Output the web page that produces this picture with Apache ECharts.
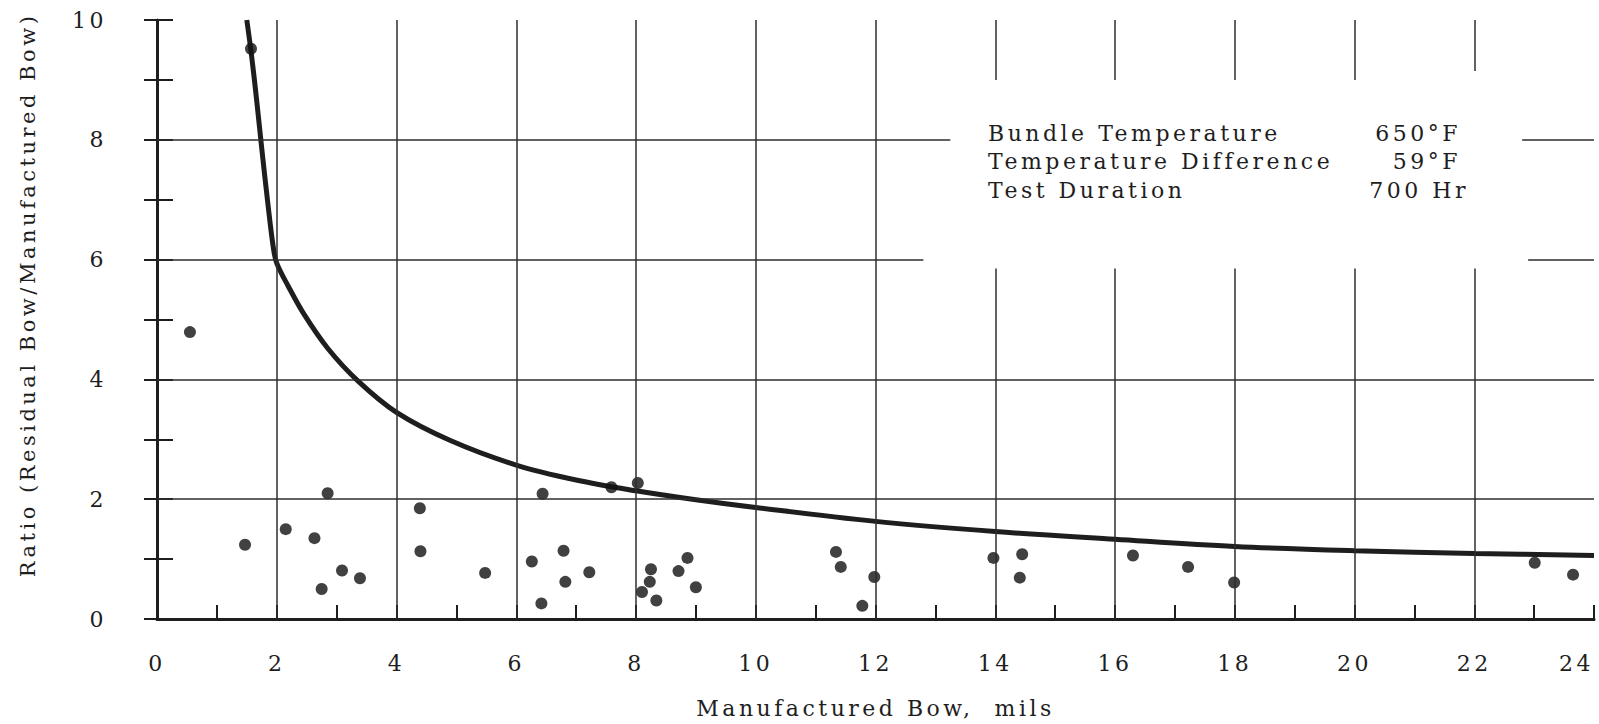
<!DOCTYPE html>
<html>
<head>
<meta charset="utf-8">
<title>Residual Bow Ratio</title>
<script src="https://cdn.jsdelivr.net/npm/echarts@6/dist/echarts.min.js"></script>
<style>
  html, body { margin: 0; padding: 0; background: #fff; }
  #chart { width: 1599px; height: 724px; }
  #chart text { letter-spacing: 3.5px; }
</style>
</head>
<body>
<div id="chart"></div>
<script>
// measured points (manufactured bow, mils / residual ratio)
const bowX = [0.55, 1.57, 1.47, 2.15, 2.63, 2.75, 2.85, 3.09, 3.39, 4.39,
  4.40, 5.48, 6.26, 6.44, 6.42, 6.79, 6.82, 7.22, 7.59, 8.03,
  8.10, 8.23, 8.25, 8.34, 8.71, 8.86, 9.00, 11.34, 11.42, 11.78,
  11.98, 13.97, 14.45, 14.41, 16.30, 17.22, 17.99, 23.01, 23.65]
const ratioY = [4.79, 9.52, 1.24, 1.50, 1.35, 0.50, 2.10, 0.81, 0.68, 1.85,
  1.13, 0.77, 0.96, 2.09, 0.26, 1.14, 0.62, 0.78, 2.20, 2.27,
  0.45, 0.62, 0.83, 0.31, 0.80, 1.02, 0.53, 1.12, 0.87, 0.22,
  0.70, 1.02, 1.08, 0.69, 1.06, 0.87, 0.61, 0.94, 0.74]

// hand-drawn envelope curve
const curveX = [1.50, 1.58, 1.66, 1.75, 1.85, 1.94, 2.00, 2.19, 2.46,
  2.85, 3.35, 4.00, 4.90, 6.00, 7.00, 8.00, 9.00, 10.00,
  12.00, 14.00, 16.00, 18.00, 20.00, 22.00, 24.00]
const curveY = [10.0, 9.40, 8.70, 7.85, 6.95, 6.22, 5.94, 5.56, 5.08,
  4.52, 3.98, 3.45, 2.98, 2.57, 2.32, 2.14, 1.99, 1.86,
  1.63, 1.46, 1.33, 1.21, 1.14, 1.095, 1.06]

const xLabels = [0, 2, 4, 6, 8, 10, 12, 14, 16, 18, 20, 22, 24]
const yLabels = [0, 2, 4, 6, 8, 10]

const noteRows = ['Bundle Temperature', 'Temperature Difference', 'Test Duration']
const noteValues = ['650°F', '59°F', '700 Hr']

const ink = '#1e1e1e'
const font = 'DejaVu Serif'

// grid lines, with the gap left for the note box
const gridSegs = []
xLabels.slice(1, 7).forEach(x => gridSegs.push([[x, 0], [x, 10]]))
xLabels.slice(7, 12).forEach(x => {
  gridSegs.push([[x, 0], [x, 5.85]])
  gridSegs.push([[x, x === 22 ? 9.15 : 9.0], [x, 10]])
})
gridSegs.push([[0, 2], [24, 2]], [[0, 4], [24, 4]])
gridSegs.push([[0, 6], [12.8, 6]], [[22.9, 6], [24, 6]])
gridSegs.push([[0, 8], [13.25, 8]], [[22.8, 8], [24, 8]])

const chart = echarts.init(document.getElementById('chart'), null, { renderer: 'svg' })

const option = {
  animation: false,
  backgroundColor: '#fff',
  textStyle: { fontFamily: font, color: ink },
  grid: { left: 157, top: 20, width: 1437, height: 600, show: false },
  xAxis: [
    {
      type: 'value', min: 0, max: 24, interval: 1, position: 'bottom',
      axisLine: { onZero: false, lineStyle: { color: ink, width: 3 } },
      axisTick: { inside: true, length: 14, lineStyle: { color: ink, width: 2 } },
      axisLabel: {
        margin: 33, fontSize: 22, color: ink, fontFamily: font,
        alignMaxLabel: 'right',
        formatter: v => (xLabels.includes(v) ? String(v) : '')
      },
      splitLine: { show: false },
      name: 'Manufactured Bow,  mils',
      nameLocation: 'middle', nameGap: 78,
      nameTextStyle: { fontSize: 22, color: ink, fontFamily: font }
    },
    {
      type: 'value', min: 0, max: 24, position: 'top',
      axisLine: { lineStyle: { color: ink, width: 2 } },
      axisTick: { show: false }, axisLabel: { show: false }, splitLine: { show: false }
    }
  ],
  yAxis: [
    {
      type: 'value', min: 0, max: 10, interval: 1, position: 'left',
      axisLine: { onZero: false, lineStyle: { color: ink, width: 3 } },
      axisTick: { inside: true, length: 16, lineStyle: { color: ink, width: 2 } },
      axisLabel: {
        margin: 50, fontSize: 22, color: ink, fontFamily: font,
        formatter: v => (yLabels.includes(v) ? String(v) : '')
      },
      splitLine: { show: false }
    },
    {
      type: 'value', min: 0, max: 10, interval: 1, position: 'right',
      axisLine: { show: true, lineStyle: { color: ink, width: 2 } },
      axisTick: { inside: true, length: 13, lineStyle: { color: ink, width: 2 } },
      axisLabel: { show: false }, splitLine: { show: false }
    }
  ],
  series: [
    {
      type: 'line', data: [], z: 1, silent: true,
      markLine: {
        silent: true, symbol: 'none', animation: false,
        label: { show: false },
        lineStyle: { color: '#2e2e2e', width: 1.5, type: 'solid' },
        data: gridSegs.map(s => [{ coord: s[0] }, { coord: s[1] }])
      }
    },
    {
      type: 'line', z: 3, silent: true,
      data: curveX.map((x, i) => [x, curveY[i]]),
      showSymbol: false, smooth: 0.35,
      lineStyle: { color: ink, width: 5 }
    },
    {
      type: 'scatter', z: 4,
      data: bowX.map((x, i) => [x, ratioY[i]]),
      symbol: 'circle', symbolSize: 12,
      itemStyle: { color: '#111' }
    }
  ],
  graphic: [
    {
      type: 'text', x: 28, y: 295, rotation: Math.PI / 2,
      style: {
        text: 'Ratio (Residual Bow/Manufactured Bow)', fill: ink,
        fontSize: 21, fontFamily: font, align: 'center', verticalAlign: 'middle'
      }
    },
    ...noteRows.map((t, i) => ({
      type: 'text', x: 988, y: 133 + i * 28.7,
      style: { text: t, fill: ink, fontSize: 22, fontFamily: font, align: 'left', verticalAlign: 'middle' }
    })),
    ...noteValues.map((t, i) => ({
      type: 'text', x: i === 2 ? 1469 : 1461, y: 133 + i * 28.7,
      style: { text: t, fill: ink, fontSize: 22, fontFamily: font, align: 'right', verticalAlign: 'middle' }
    }))
  ]
}

chart.setOption(option)
window.addEventListener('resize', () => chart.resize())
</script>
</body>
</html>
